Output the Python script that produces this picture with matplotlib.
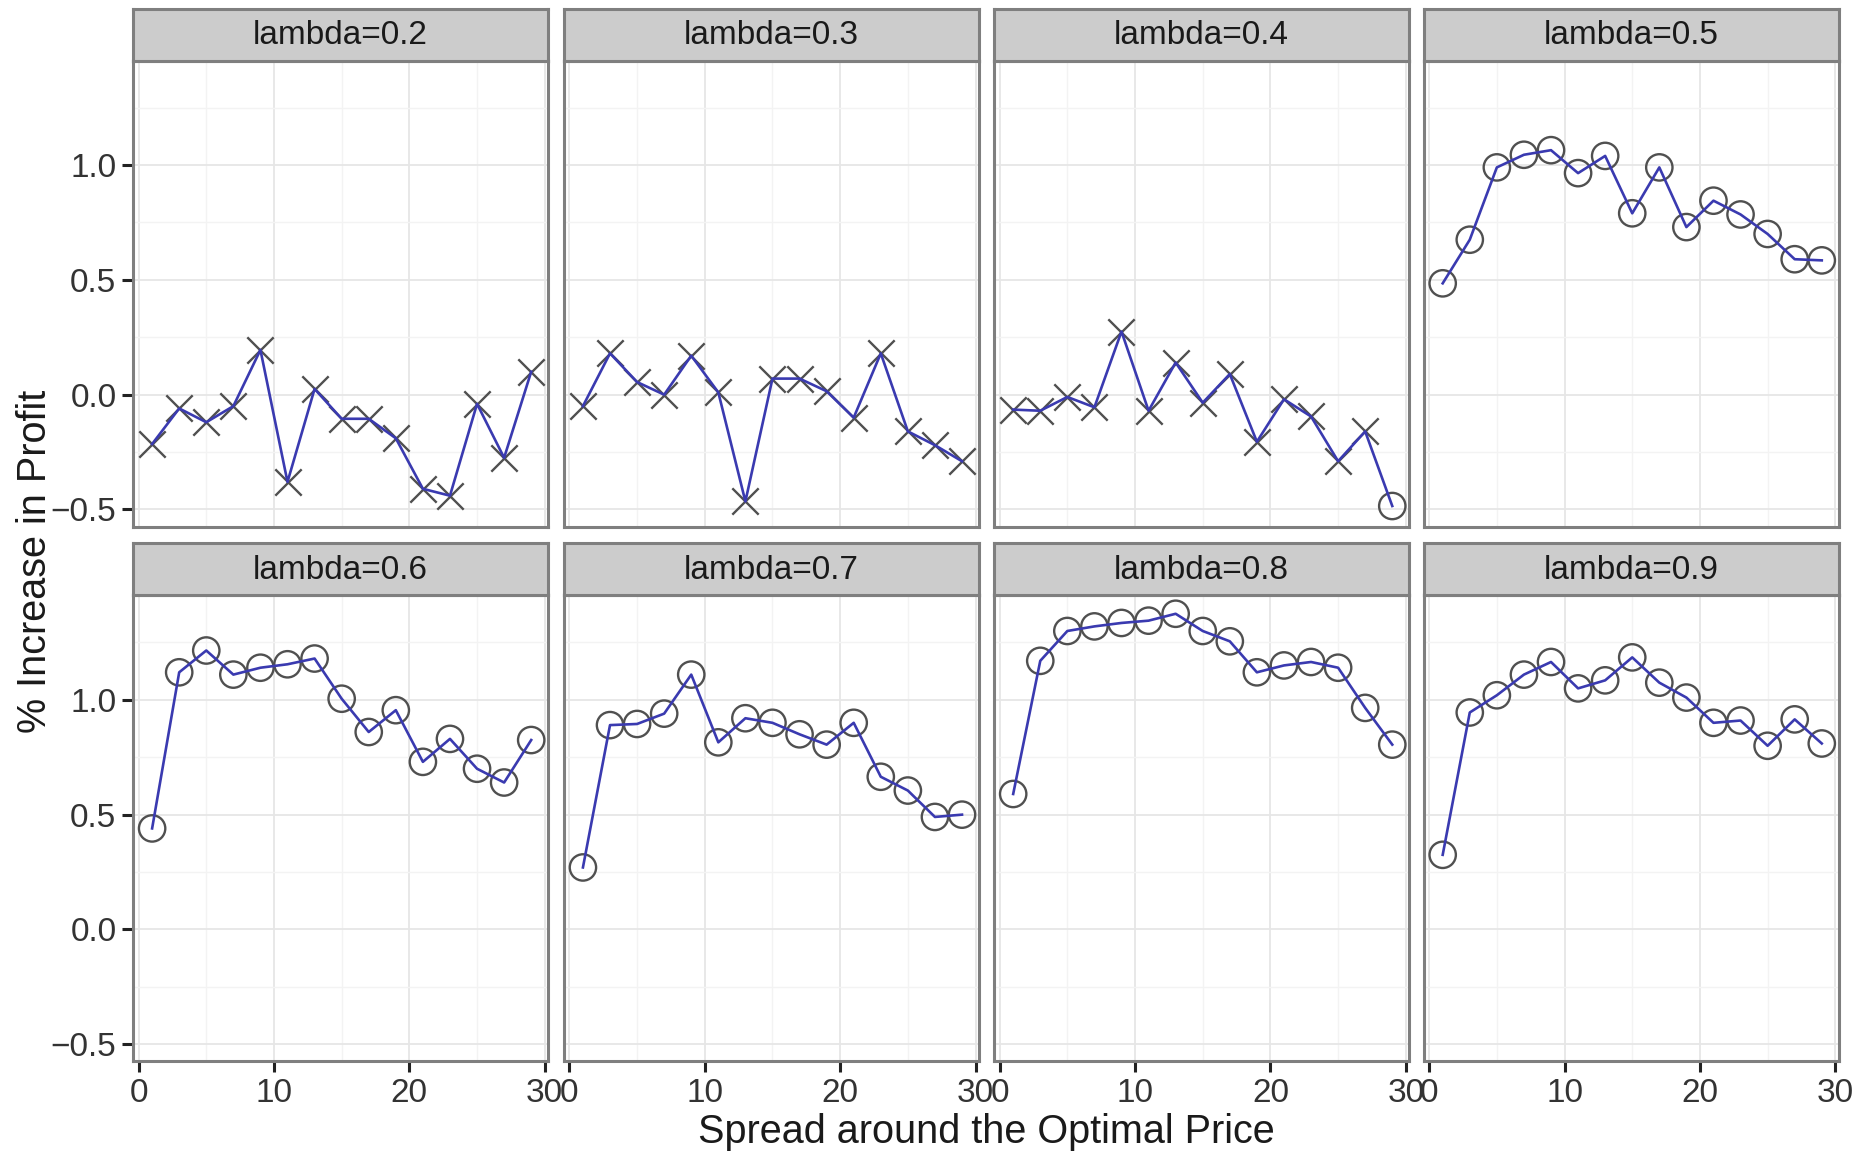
import matplotlib
matplotlib.use("Agg")
import matplotlib.pyplot as plt
import numpy as np

plt.rcParams['font.family'] = ['Liberation Sans', 'DejaVu Sans']

# données
spread = [1, 3, 5, 7, 9, 11, 13, 15, 17, 19, 21, 23, 25, 27, 29]
lambdas = ["0.2", "0.3", "0.4", "0.5", "0.6", "0.7", "0.8", "0.9"]

profit_02 = [-0.215, -0.06, -0.12, -0.05, 0.195, -0.38, 0.025, -0.105, -0.105, -0.19, -0.41, -0.44, -0.04, -0.275, 0.10]
profit_03 = [-0.05, 0.18, 0.055, 0.0, 0.17, 0.01, -0.465, 0.07, 0.07, 0.015, -0.10, 0.18, -0.16, -0.22, -0.29]
profit_04 = [-0.065, -0.07, -0.01, -0.055, 0.275, -0.07, 0.14, -0.035, 0.09, -0.205, -0.02, -0.095, -0.29, -0.16, -0.485]
profit_05 = [0.485, 0.675, 0.99, 1.045, 1.065, 0.965, 1.04, 0.79, 0.99, 0.73, 0.845, 0.785, 0.70, 0.59, 0.585]
profit_06 = [0.44, 1.12, 1.215, 1.11, 1.14, 1.155, 1.18, 1.005, 0.86, 0.955, 0.73, 0.83, 0.70, 0.64, 0.825]
profit_07 = [0.27, 0.89, 0.895, 0.94, 1.11, 0.815, 0.92, 0.90, 0.85, 0.805, 0.90, 0.665, 0.605, 0.49, 0.50]
profit_08 = [0.59, 1.17, 1.30, 1.32, 1.335, 1.345, 1.375, 1.30, 1.255, 1.12, 1.15, 1.165, 1.14, 0.965, 0.805]
profit_09 = [0.325, 0.945, 1.02, 1.11, 1.165, 1.05, 1.085, 1.185, 1.075, 1.01, 0.90, 0.91, 0.80, 0.915, 0.81]

# 1 = significatif (cercle), 0 = non significatif (croix)
signif_02 = [0] * 15
signif_03 = [0] * 15
signif_04 = [0] * 14 + [1]
signif_05 = [1] * 15
signif_06 = [1] * 15
signif_07 = [1] * 15
signif_08 = [1] * 15
signif_09 = [1] * 15

profits = [profit_02, profit_03, profit_04, profit_05, profit_06, profit_07, profit_08, profit_09]
signifs = [signif_02, signif_03, signif_04, signif_05, signif_06, signif_07, signif_08, signif_09]

fig = plt.figure(figsize=(18.65, 11.55), dpi=100)

lefts = [0.0714, 0.3024, 0.5331, 0.7634]
bottoms = [0.544, 0.081]
larg = 0.2225
haut = 0.4035
haut_strip = 0.045
gris_bord = '#7f7f7f'
bleu = '#3a3ab0'

for i in range(8):
    ligne = i // 4
    col = i % 4
    ax = fig.add_axes([lefts[col], bottoms[ligne], larg, haut])
    x = np.array(spread)
    y = np.array(profits[i])
    s = np.array(signifs[i])

    ax.set_xlim(-0.4, 30.25)
    ax.set_ylim(-0.575, 1.455)
    ax.set_xticks([0, 10, 20, 30])
    ax.set_xticks([5, 15, 25], minor=True)
    ax.set_yticks([-0.5, 0.0, 0.5, 1.0])
    ax.set_yticks([-0.25, 0.25, 0.75, 1.25], minor=True)
    ax.grid(which='major', color='#e6e6e6', lw=1.3)
    ax.grid(which='minor', color='#f3f3f3', lw=1.0)
    ax.set_axisbelow(True)

    ax.scatter(x[s == 1], y[s == 1], s=360, marker='o', facecolors='none',
               edgecolors='#505050', linewidths=1.7, zorder=2)
    ax.scatter(x[s == 0], y[s == 0], s=360, marker='x', color='#505050',
               linewidths=1.7, zorder=2)
    ax.plot(x, y, '-', color=bleu, lw=1.9, zorder=3)

    for sp in ax.spines.values():
        sp.set_color(gris_bord)
        sp.set_linewidth(2.2)

    ax.tick_params(which='minor', length=0)
    ax.tick_params(which='major', length=8, width=2.2, color='#222222',
                   labelsize=24, labelcolor='#333333', pad=4)
    if col != 0:
        ax.tick_params(axis='y', which='major', length=0, labelleft=False)
    else:
        ax.set_yticklabels(['\u22120.5', '0.0', '0.5', '1.0'])
    if ligne == 0:
        ax.tick_params(axis='x', which='major', length=0, labelbottom=False)

    # bandeau du haut
    st = fig.add_axes([lefts[col], bottoms[ligne] + haut, larg, haut_strip])
    st.set_facecolor('#cccccc')
    st.set_xticks([])
    st.set_yticks([])
    for sp in st.spines.values():
        sp.set_color(gris_bord)
        sp.set_linewidth(2.2)
    st.text(0.5, 0.48, 'lambda=' + lambdas[i], ha='center', va='center',
            fontsize=24, color='#1a1a1a', transform=st.transAxes)

fig.text(0.5287, 0.02, 'Spread around the Optimal Price', ha='center', va='center',
         fontsize=28.5, color='#1a1a1a')
fig.text(0.019, 0.514, '% Increase in Profit', ha='center', va='center',
         rotation=90, fontsize=28.5, color='#1a1a1a')

fig.savefig('out.png', dpi=100, facecolor='white')
